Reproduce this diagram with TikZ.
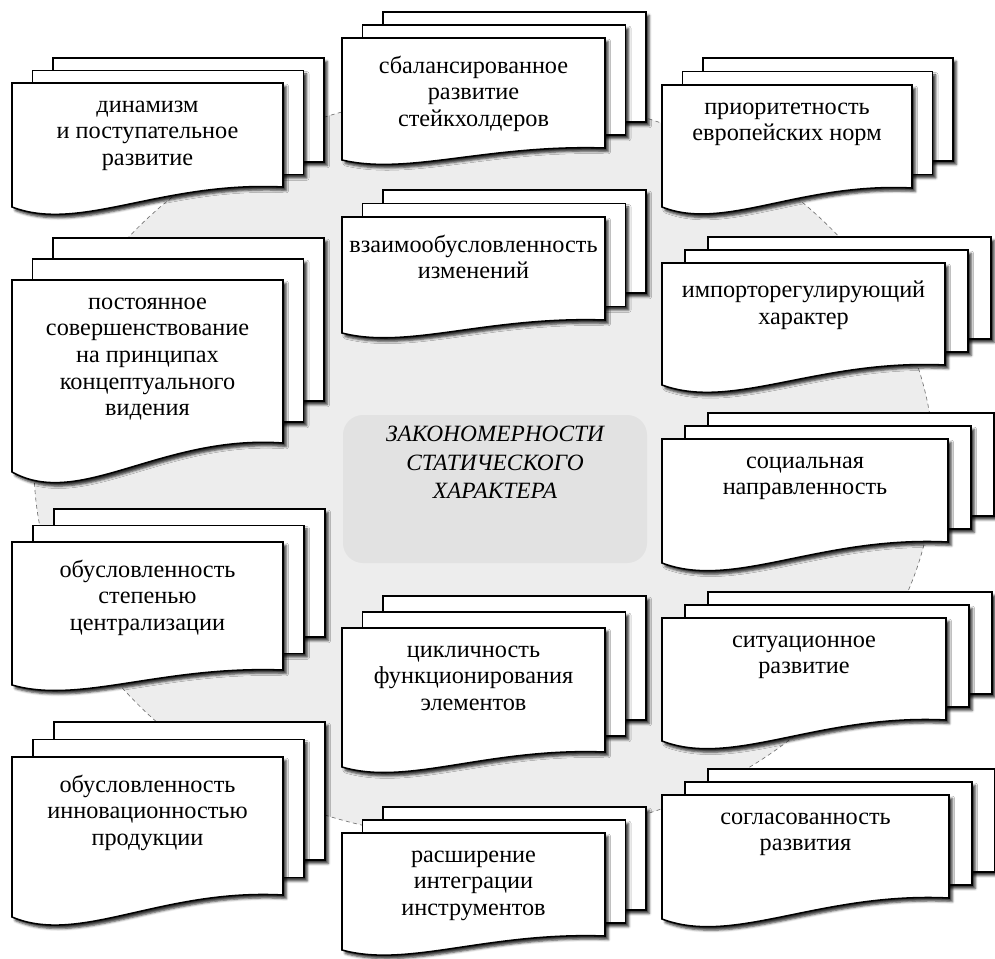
\documentclass[tikz,border=0pt]{standalone}
\usepackage{fontspec}
\setmainfont{Liberation Serif}
\usetikzlibrary{calc,shadows.blur}
\definecolor{bgfill}{HTML}{EDEDED}
\definecolor{boxfill}{HTML}{E2E2E2}
\tikzset{
  page/.style={fill=white, draw=black, line width=1.15pt, line join=miter,
    blur shadow={shadow xshift=2.4pt, shadow yshift=-2.6pt, shadow blur radius=1.8pt, shadow opacity=80}},
  lbl/.style={font=\fontsize{18.2}{20}\selectfont, align=center, anchor=north, inner sep=0pt,
    execute at begin node=\strut},
  ctr/.style={font=\fontsize{17.5}{21.4}\selectfont\itshape, align=center, anchor=north, inner sep=0pt,
    execute at begin node=\strut},
}
% #1 L  #2 R  #3 T  #4 BR  #5 BL  #6 dx  #7 dy  #8 name  #9 text
\newcommand\mdoc[9]{%
  \path[page] (#1+2*#6,#3-2*#7) rectangle (#2+2*#6,#4-2*#7);
  \path[page] (#1+#6,#3-#7) rectangle (#2+#6,#4-#7);
  \path[page] (#1,#3) -- (#2,#3) -- (#2,#4)
     .. controls (#1+0.55*#2-0.55*#1,#4-0.3*#5+0.3*#4) and (#1+0.25*#2-0.25*#1,#5+1.3*#5-1.3*#4) .. (#1,#5) -- cycle;
  \node[lbl] (#8) at (#1/2+#2/2,#3+17.5) {#9};
}
\begin{document}
\begin{tikzpicture}[x=0.75pt,y=-0.75pt]
\useasboundingbox (0,0) rectangle (995,959);
% background ellipse
\path[fill=bgfill, draw=black!55, dashed, line width=0.5pt, dash pattern=on 3pt off 2.5pt]
  (484,466) ellipse [x radius=337.5pt, y radius=279.75pt];
% central block
\path[fill=boxfill, rounded corners=15pt] (343,415) rectangle (647,563);
\node[ctr] (center) at (495,426) {ЗАКОНОМЕРНОСТИ\\СТАТИЧЕСКОГО\\ХАРАКТЕРА};
% left column
\mdoc{12}{283}{83}{187}{207}{20.5}{12.5}{dyn}{динамизм\\и поступательное\\развитие}
\mdoc{12}{283}{280}{443}{472}{20.5}{21}{post}{постоянное\\совершенствование\\на принципах\\концептуального\\видения}
\mdoc{12}{283}{542}{670}{685}{21}{16.5}{step}{обусловленность\\степенью\\централизации}
\mdoc{12}{283}{757}{895}{917}{21}{17.5}{innov}{обусловленность\\инновационностью\\продукции}
% middle column
\mdoc{342}{605}{38}{148}{160}{20.5}{13}{bal}{сбалансированное\\развитие\\стейкхолдеров}
\mdoc{342}{605}{217}{320}{333}{20.5}{13.5}{vzaim}{взаимообусловленность\\изменений}
\mdoc{342}{605}{628}{752}{767}{20.5}{16}{cikl}{цикличность\\функционирования\\элементов}
\mdoc{342}{605}{833}{936}{950}{20.5}{13}{rassh}{расширение\\интеграции\\инструментов}
% right column
\mdoc{662}{912}{85}{188}{207}{20.5}{13.5}{prior}{приоритетность\\европейских норм}
\mdoc{662}{945}{263}{365}{385}{23}{13}{import}{импорторегулирующий\\характер}
\mdoc{662}{948}{439}{542}{563}{23}{13}{soc}{социальная\\направленность}
\mdoc{662}{946}{618}{720}{741}{23}{13}{sit}{ситуационное\\развитие}
\mdoc{662}{949}{795}{898}{919}{23}{13}{sogl}{согласованность\\развития}
\end{tikzpicture}
\end{document}
